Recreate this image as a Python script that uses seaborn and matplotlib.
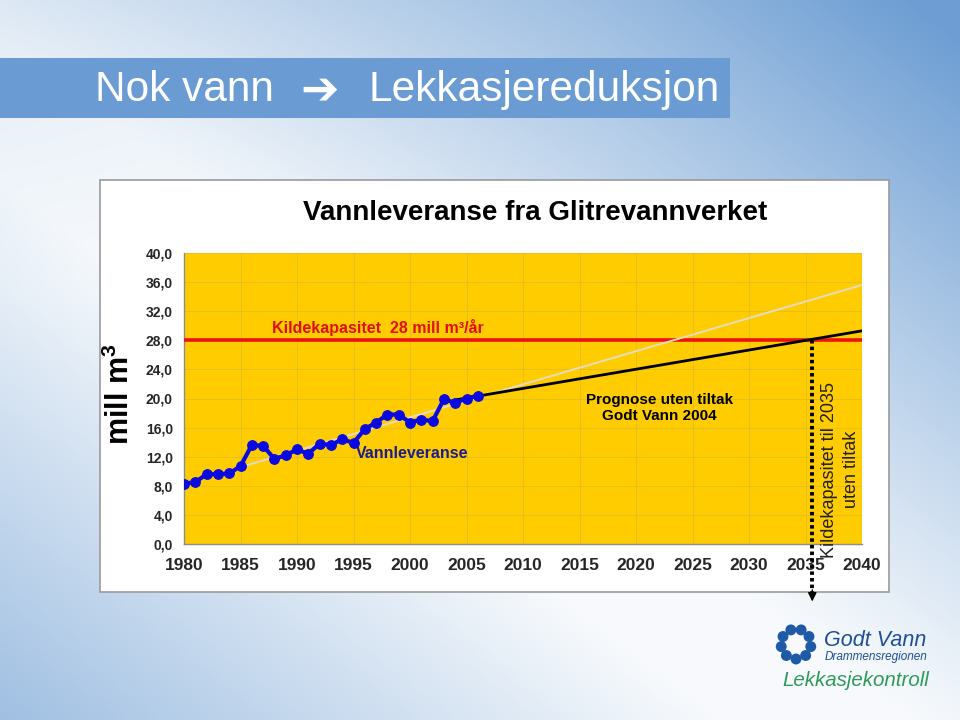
import numpy as np
import matplotlib
matplotlib.use("Agg")
import matplotlib.pyplot as plt
from matplotlib.patches import Rectangle
import seaborn as sns
import pandas as pd

# ---------------- data ----------------
years = list(range(1980, 2007))
delivery = [8.3, 8.5, 9.6, 9.6, 9.7, 10.7, 13.6, 13.5, 11.7, 12.2, 13.0,
            12.4, 13.8, 13.6, 14.4, 13.9, 15.8, 16.7, 17.8, 17.8, 16.7,
            17.1, 16.9, 19.9, 19.4, 20.0, 20.4]
trend_years = [1980, 2040]
trend_values = [8.3, 35.6]
forecast_years = [2004, 2040]
forecast_values = [19.8, 29.3]
capacity = 28.0
capacity_year = 2035.6
x_ticks = list(range(1980, 2041, 5))
y_ticks = [0, 4, 8, 12, 16, 20, 24, 28, 32, 36, 40]
y_tick_labels = ["0,0", "4,0", "8,0", "12,0", "16,0", "20,0", "24,0",
                 "28,0", "32,0", "36,0", "40,0"]

sns.set_style("white")
plt.rcParams['font.family'] = ['Liberation Sans', 'DejaVu Sans']
plt.rcParams['mathtext.fontset'] = 'custom'
plt.rcParams['mathtext.rm'] = 'Liberation Sans'
plt.rcParams['mathtext.bf'] = 'Liberation Sans:bold'

fig = plt.figure(figsize=(9.6, 7.2), dpi=100)

# ---------------- background (slide) ----------------
bg = fig.add_axes([0, 0, 1, 1])
bg.set_xlim(0, 960)
bg.set_ylim(720, 0)
bg.axis('off')
H, W = 180, 240
yy, xx = np.mgrid[0:H, 0:W]
xn = xx / (W - 1)
yn = yy / (H - 1)
u = xn - yn
t = 0.95 * np.clip(u + 0.05, 0, 1) ** 1.1 + 0.6 * np.clip(-u - 0.25, 0, 1) / 0.75
t += 0.15 * np.clip(1 - xn * 1.6, 0, 1) * np.clip(1 - yn * 2.5, 0, 1)
t = np.clip(t, 0, 1)
white = np.array([0.97, 0.98, 0.99])
blue = np.array([0.40, 0.60, 0.82])
img = white[None, None, :] * (1 - t[..., None]) + blue[None, None, :] * t[..., None]
bg.imshow(img, extent=[0, 960, 720, 0], aspect='auto', interpolation='bilinear', zorder=0)

# banner
bg.add_patch(Rectangle((0, 58), 730, 60, facecolor='#6b9bd3', edgecolor='none', zorder=1))
bg.text(95, 90, "Nok vann", color='white', fontsize=30.5, va='center', ha='left', zorder=2)
bg.text(320, 91, "\u2794", color='white', fontsize=33, va='center', ha='center',
        family=['DejaVu Sans'], fontweight='bold', zorder=2)
bg.text(368, 90, "Lekkasjereduksjon", color='white', fontsize=30.5, va='center', ha='left', zorder=2)

# chart frame
bg.add_patch(Rectangle((100, 180), 789, 412, facecolor='white', edgecolor='#9a9a9a',
                       linewidth=1.2, zorder=1))
bg.text(535, 213, "Vannleveranse fra Glitrevannverket", fontsize=20, fontweight='bold',
        ha='center', va='center', color='black', zorder=2)
bg.text(120, 394, r"mill m$^{\mathbf{3}}$", fontsize=22, fontweight='bold', rotation=90,
        ha='center', va='center', color='black', zorder=2)

# logo
cx, cy, r = 796, 644, 15
for ang in range(270, 270 + 360, 40):
    a = np.deg2rad(ang)
    bg.scatter([cx + r * np.cos(a)], [cy - r * np.sin(a)], s=62, color='#1e5aa6',
               edgecolor='none', zorder=3)
bg.text(824, 640, "Godt Vann", fontsize=15.5, style='italic', color='#1f4f96',
        ha='left', va='center', zorder=3)
bg.text(825, 657, "Drammensregionen", fontsize=8.5, style='italic', color='#1f4f96',
        ha='left', va='center', zorder=3)
bg.text(782, 681, "Lekkasjekontroll", fontsize=14.8, style='italic', color='#2f9a5a',
        ha='left', va='center', zorder=3)

# ---------------- main chart ----------------
ax = fig.add_axes([184 / 960, (720 - 544) / 720, (862 - 184) / 960, (544 - 253) / 720])
ax.set_facecolor('#ffcc00')
ax.set_xlim(1980, 2040)
ax.set_ylim(0, 40)
ax.set_xticks(x_ticks)
ax.set_yticks(y_ticks)
ax.set_yticklabels(y_tick_labels)
ax.grid(True, color='#cdb24a', linewidth=0.7, alpha=0.5)
ax.set_axisbelow(True)
for s in ['top', 'right']:
    ax.spines[s].set_visible(False)
for s in ['left', 'bottom']:
    ax.spines[s].set_color('#8c8c8c')
    ax.spines[s].set_linewidth(1)
ax.tick_params(axis='y', length=4, color='#8c8c8c', labelsize=10, pad=4)
ax.tick_params(axis='x', length=4, color='#8c8c8c', labelsize=12.5, pad=6)
for lab in ax.get_yticklabels():
    lab.set_fontweight('bold')
for lab in ax.get_xticklabels():
    lab.set_fontweight('bold')

# capacity line
ax.axhline(capacity, color='#ee1111', linewidth=2.6, zorder=3)

# trend line (grey)
sns.lineplot(x=trend_years, y=trend_values, ax=ax, color='#e3dcc4', linewidth=1.4, zorder=4)
# forecast (black)
sns.lineplot(x=forecast_years, y=forecast_values, ax=ax, color='black', linewidth=2.0, zorder=5)
# observed delivery
df = pd.DataFrame({'year': years, 'delivery': delivery})
sns.lineplot(data=df, x='year', y='delivery', ax=ax, color='#0a0ae0', linewidth=3.0,
             marker='o', markersize=7, markeredgecolor='#0a0ae0', zorder=6)
ax.set_xlabel('')
ax.set_ylabel('')

# dotted line with arrowhead from capacity crossing down
ax.plot([capacity_year, capacity_year], [capacity, -6.6], color='black', linewidth=2.8,
        linestyle=(0, (0.9, 0.8)), clip_on=False, zorder=7)
ax.annotate('', xy=(capacity_year, -7.9), xytext=(capacity_year, -6.3),
            arrowprops=dict(arrowstyle='-|>', linewidth=1, color='black',
                            mutation_scale=13, shrinkA=0, shrinkB=0),
            annotation_clip=False, zorder=7)

# annotations
ax.text(1987.8, 29.8, "Kildekapasitet  28 mill m\u00b3/\u00e5r", color='#e01010',
        fontsize=11.5, fontweight='bold', ha='left', va='center')
ax.text(1995.2, 12.5, "Vannleveranse", color='#1c1c8c', fontsize=11.5, fontweight='bold',
        ha='left', va='center')
ax.text(2022.1, 18.7, "Prognose uten tiltak\nGodt Vann 2004", color='black', fontsize=11,
        fontweight='bold', ha='center', va='center', linespacing=1.1)
ax.text(2038.1, 10.2, "Kildekapasitet til 2035\nuten tiltak", color='#222222', fontsize=13,
        rotation=90, ha='center', va='center', multialignment='center', linespacing=1.4,
        zorder=8)

fig.savefig('out.png', dpi=100)
